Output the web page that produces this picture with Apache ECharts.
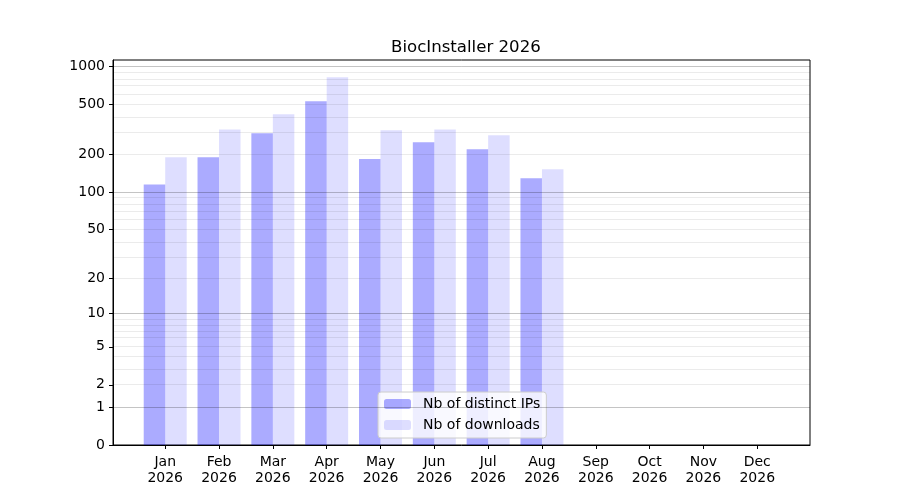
<!DOCTYPE html>
<html>
<head>
<meta charset="utf-8">
<script src="https://cdn.jsdelivr.net/npm/echarts@6/dist/echarts.min.js"></script>
<style>
  html, body { margin: 0; padding: 0; background: #fff; }
  #chart { width: 900px; height: 500px; }
</style>
</head>
<body>
<div id="chart"></div>
<script>
// data
const months = ['Jan', 'Feb', 'Mar', 'Apr', 'May', 'Jun', 'Jul', 'Aug', 'Sep', 'Oct', 'Nov', 'Dec'];
const year = '2026';
const distinctIPs = [115, 189, 294, 527, 183, 249, 219, 129];
const downloads = [189, 315, 416, 818, 310, 315, 283, 152];
const yTicks = [0, 1, 2, 5, 10, 20, 50, 100, 200, 500, 1000];
const majorGrid = [1, 10, 100, 1000];

// y axis is log10(1 + value)
function tr(v) { return Math.log10(1 + v); }

let minorGrid = [];
[1, 10, 100].forEach(function (d) {
    for (let k = 2; k <= 9; k++) minorGrid.push(k * d);
});

(function () {
    let myChart = echarts.init(document.getElementById('chart'));
    const font = 'DejaVu Sans';
    let gridLines = minorGrid.map(function (v) {
        return { yAxis: tr(v), lineStyle: { color: 'rgba(0,0,0,0.08)', width: 1, type: 'solid' } };
    }).concat(majorGrid.map(function (v) {
        return { yAxis: tr(v), lineStyle: { color: 'rgba(0,0,0,0.23)', width: 1, type: 'solid' } };
    }));
    let monthIdx = months.map(function (m, i) { return i; });

    let options = {
        animation: false,
        textStyle: { fontFamily: font },
        title: {
            text: 'BiocInstaller ' + year,
            left: 386, top: 34,
            textStyle: { fontFamily: font, fontSize: 16.6, fontWeight: 'normal', color: '#000' }
        },
        legend: {
            orient: 'vertical',
            left: 378, top: 392,
            padding: [4, 6, 5, 6],
            itemGap: 5,
            itemWidth: 27, itemHeight: 10,
            backgroundColor: 'rgba(255,255,255,0.8)',
            borderColor: '#cccccc', borderWidth: 1, borderRadius: 3,
            textStyle: { fontFamily: font, fontSize: 14, color: '#000', lineHeight: 16, padding: [0, 0, 0, 7] },
            data: ['Nb of distinct IPs', 'Nb of downloads']
        },
        grid: {
            left: 113, right: 90, top: 60, bottom: 55,
            show: true, borderColor: '#000', borderWidth: 1,
            backgroundColor: 'transparent'
        },
        xAxis: {
            type: 'value',
            min: -0.97, max: 11.98,
            axisLine: { show: true, onZero: false, lineStyle: { color: '#000' } },
            splitLine: { show: false },
            axisTick: { show: true, length: 4, customValues: monthIdx, lineStyle: { color: '#000' } },
            axisLabel: {
                customValues: monthIdx,
                formatter: function (v) { return months[Math.round(v)] + '\n' + year; },
                fontFamily: font, fontSize: 14, color: '#000', lineHeight: 16, margin: 9
            }
        },
        yAxis: {
            type: 'value',
            min: 0, max: 3.05,
            axisLine: { show: true, onZero: false, lineStyle: { color: '#000' } },
            splitLine: { show: false },
            axisTick: { show: true, length: 4, customValues: yTicks.map(tr), lineStyle: { color: '#000' } },
            axisLabel: {
                customValues: yTicks.map(tr),
                formatter: function (v) {
                    let best = yTicks[0];
                    yTicks.forEach(function (t) { if (Math.abs(tr(t) - v) < Math.abs(tr(best) - v)) best = t; });
                    return String(best);
                },
                fontFamily: font, fontSize: 14, color: '#000', margin: 8
            }
        },
        series: [{
            name: 'Nb of distinct IPs',
            type: 'bar',
            barWidth: 21.5,
            barGap: '0%',
            itemStyle: { color: 'rgba(0,0,255,0.33)' },
            data: distinctIPs.map(function (v, i) { return [i, tr(v)]; }),
            markLine: {
                silent: true,
                symbol: 'none',
                label: { show: false },
                data: gridLines
            }
        }, {
            name: 'Nb of downloads',
            type: 'bar',
            barWidth: 21.5,
            barGap: '0%',
            itemStyle: { color: 'rgba(0,0,255,0.13)' },
            data: downloads.map(function (v, i) { return [i, tr(v)]; })
        }]
    };
    myChart.setOption(options);
})();
</script>
</body>
</html>
